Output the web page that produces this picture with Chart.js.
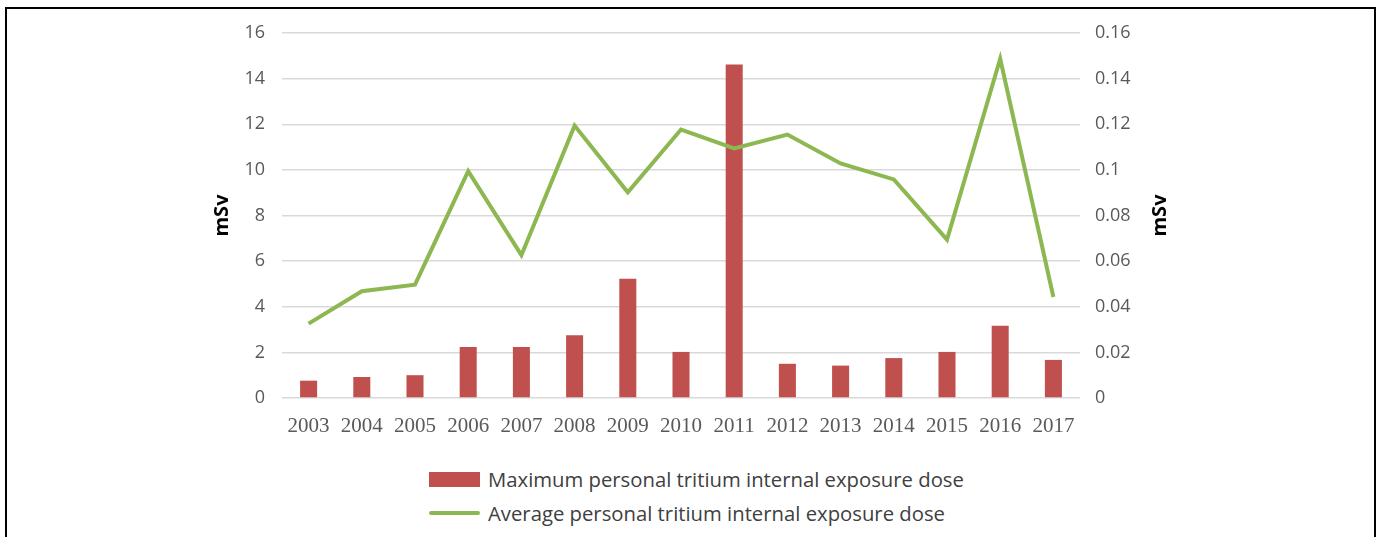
<!DOCTYPE html>
<html>
<head>
<meta charset="utf-8">
<script src="https://cdn.jsdelivr.net/npm/chart.js@4/dist/chart.umd.min.js"></script>
<style>
  body { margin: 0; background: #fff; }
  #wrap { position: absolute; left: 0; top: 0; width: 1378px; height: 537px; overflow: hidden; }
  #frame { position: absolute; left: 5px; top: 7px; width: 1367px; height: 600px; border: 2px solid #000; }
  #box { position: absolute; left: 0; top: 0; width: 1378px; height: 460px; }
  #legend { position: absolute; left: 429px; top: 462px; font-family: 'Open Sans', sans-serif; font-size: 20.3px; color: #404040; }
  .item { display: flex; align-items: center; height: 34px; }
  .swatch { width: 51px; margin-right: 8px; }
</style>
</head>
<body>
<div id="wrap">
  <div id="frame"></div>
  <div id="box"><canvas id="chart"></canvas></div>
  <div id="legend"></div>
</div>
<script>
const years = ['2003', '2004', '2005', '2006', '2007', '2008', '2009', '2010',
               '2011', '2012', '2013', '2014', '2015', '2016', '2017'];

// mSv, left axis
const maxDose = [0.76, 0.92, 1.0, 2.24, 2.24, 2.75, 5.23, 2.02,
                 14.62, 1.5, 1.42, 1.75, 2.02, 3.17, 1.67];

// mSv, right axis
const avgDose = [0.0326, 0.0468, 0.0497, 0.0994, 0.0626, 0.1194, 0.0902, 0.1177,
                 0.1094, 0.1155, 0.1028, 0.0958, 0.0694, 0.1487, 0.0443];

const leftTicks = [0, 16, 2];
const rightTicks = [0, 0.16, 0.02];

const RED = '#C0504D';
const GREEN = '#8DB750';
const TICK_COLOR = '#595959';

// draws the two "mSv" titles, both reading bottom to top
const axisTitles = {
  id: 'axisTitles',
  afterDraw(chart) {
    const ctx = chart.ctx;
    const mid = (chart.chartArea.top + chart.chartArea.bottom) / 2;
    ctx.save();
    ctx.font = 'bold 20px "Open Sans"';
    ctx.fillStyle = '#000';
    ctx.textAlign = 'center';
    ctx.textBaseline = 'middle';
    [222, 1160].forEach(x => {
      ctx.save();
      ctx.translate(x, mid);
      ctx.rotate(-Math.PI / 2);
      ctx.fillText('mSv', 0, 0);
      ctx.restore();
    });
    ctx.restore();
  }
};

const chart = new Chart(document.getElementById('chart').getContext('2d'), {
  type: 'bar',
  data: {
    labels: years,
    datasets: [
      {
        type: 'line',
        label: 'Average personal tritium internal exposure dose',
        data: avgDose,
        yAxisID: 'y1',
        borderColor: GREEN,
        backgroundColor: GREEN,
        borderWidth: 4,
        pointRadius: 0,
        tension: 0,
        order: 0
      },
      {
        type: 'bar',
        label: 'Maximum personal tritium internal exposure dose',
        data: maxDose,
        yAxisID: 'y',
        backgroundColor: RED,
        borderWidth: 0,
        categoryPercentage: 1,
        barPercentage: 0.32,
        order: 1
      }
    ]
  },
  options: {
    responsive: true,
    maintainAspectRatio: false,
    animation: false,
    layout: { padding: { top: 33, bottom: 22, left: 0, right: 0 } },
    plugins: {
      legend: { display: false },
      tooltip: { enabled: false }
    },
    scales: {
      x: {
        grid: { display: false },
        border: { display: false },
        ticks: {
          color: TICK_COLOR,
          padding: 8,
          maxRotation: 0,
          font: { family: '"Liberation Serif"', size: 21 }
        },
        afterFit(scale) { scale.height = 40; }
      },
      y: {
        position: 'left',
        min: leftTicks[0],
        max: leftTicks[1],
        ticks: {
          stepSize: leftTicks[2],
          color: TICK_COLOR,
          padding: 17,
          font: { family: '"Open Sans"', size: 18 }
        },
        grid: { color: '#d9d9d9', lineWidth: 1.5, drawTicks: false },
        border: { display: false },
        afterFit(scale) { scale.width = 282; }
      },
      y1: {
        position: 'right',
        min: rightTicks[0],
        max: rightTicks[1],
        ticks: {
          stepSize: rightTicks[2],
          color: TICK_COLOR,
          padding: 15,
          font: { family: '"Open Sans"', size: 18 },
          callback: v => String(+v.toFixed(2))
        },
        grid: { display: false, drawTicks: false },
        border: { display: false },
        afterFit(scale) { scale.width = 298; }
      }
    }
  },
  plugins: [axisTitles]
});

// legend: bar first, then line, stacked
const legend = document.getElementById('legend');
[1, 0].forEach(i => {
  const ds = chart.data.datasets[i];
  const item = document.createElement('div');
  item.className = 'item';
  const sw = document.createElement('div');
  sw.className = 'swatch';
  if (ds.type === 'bar') {
    sw.style.height = '15px';
    sw.style.background = ds.backgroundColor;
  } else {
    sw.style.height = '4px';
    sw.style.borderRadius = '2px';
    sw.style.background = ds.borderColor;
  }
  const txt = document.createElement('span');
  txt.textContent = ds.label;
  item.appendChild(sw);
  item.appendChild(txt);
  legend.appendChild(item);
});
</script>
</body>
</html>
